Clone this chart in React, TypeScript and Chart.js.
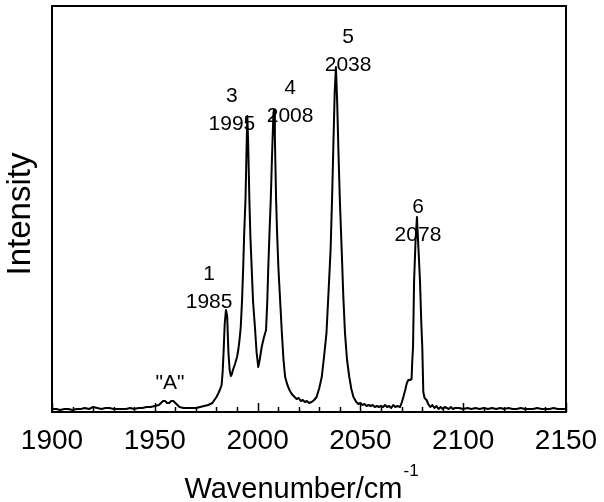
import { useEffect, useRef } from "react";
import { Chart, registerables } from "chart.js";

Chart.register(...registerables);

// Spectrum (wavenumber in cm^-1, intensity in arbitrary units)
const wavenumbers = [
  1900, 1902, 1904, 1906, 1908, 1910, 1912, 1914, 1916, 1918, 1920, 1922, 1924, 1926, 1928, 1930,
  1932, 1934, 1936, 1938, 1940, 1942, 1944, 1946, 1948, 1950, 1952, 1953, 1954, 1955, 1956, 1957,
  1958, 1959, 1960, 1961, 1962, 1964, 1966, 1968, 1970, 1972, 1974, 1976, 1978, 1979, 1980, 1981,
  1982, 1982.5, 1983, 1983.5, 1984, 1984.6, 1985.2, 1985.8, 1986.4, 1987, 1987.5, 1988, 1989, 1990,
  1990.6, 1991.2, 1991.8, 1992.4, 1993, 1993.5, 1994.1, 1994.6, 1995, 1995.4, 1996, 1996.5, 1997.1,
  1997.8, 1998.7, 1999.5, 2000.3, 2001, 2002, 2003, 2004.1, 2004.7, 2005.2, 2005.8, 2006.4, 2007,
  2007.7, 2008, 2008.4, 2009, 2009.5, 2010.1, 2011, 2011.8, 2012.6, 2013.4, 2014.5, 2015.5, 2016.6,
  2018, 2019, 2020, 2021, 2022, 2023, 2024, 2025, 2026.3, 2027.5, 2028.7, 2030, 2031.2, 2032.3, 2033.5,
  2034.5, 2035.5, 2036.2, 2036.8, 2037.5, 2038.1, 2038.7, 2039.3, 2040, 2040.9, 2041.7, 2042.5,
  2043.5, 2044.6, 2045.6, 2046.6, 2048, 2049, 2050, 2051, 2052, 2053, 2054, 2055, 2056, 2057, 2058,
  2059, 2060, 2061, 2062, 2063, 2064, 2065, 2066, 2067, 2068, 2069.3, 2070.2, 2070.9, 2071.8, 2072.6,
  2073.3, 2074, 2074.9, 2075.2, 2075.6, 2076.1, 2076.8, 2077.5, 2078.2, 2079, 2079.6, 2080.1, 2080.6,
  2081.2, 2082.2, 2083, 2084, 2085, 2086, 2087, 2088, 2089, 2090, 2091, 2092, 2093, 2094, 2095, 2096,
  2098, 2100, 2102, 2104, 2106, 2108, 2110, 2112, 2114, 2116, 2118, 2120, 2122, 2124, 2126, 2128,
  2130, 2132, 2134, 2136, 2138, 2140, 2142, 2144, 2146, 2148, 2150,
];

const intensities = [
  3, 3, 2, 3, 3, 2, 3, 3, 4, 3, 5, 4, 3, 4, 4, 3,
  3, 3, 3, 4, 3, 4, 4, 5, 5, 6, 7, 9, 11, 11, 9, 9,
  11, 11, 9, 7, 5, 4, 4, 4, 4, 5, 6, 7, 9, 12, 15, 19,
  24, 27, 40, 62, 88, 102, 96, 60, 42, 36, 38, 42, 48, 55,
  62, 72, 85, 110, 145, 180, 212, 260, 296, 270, 212, 175, 145,
  110, 85, 60, 45, 52, 65, 74, 82, 110, 145, 180, 212, 255,
  299, 302, 275, 212, 178, 145, 110, 79, 52, 35, 27, 22, 18,
  15, 13, 14, 11, 12, 10, 11, 9, 10, 12, 15, 24, 35, 55, 79,
  120, 162, 212, 262, 320, 345, 310, 262, 212, 162, 115, 79,
  52, 35, 23, 15, 10, 8, 9, 7, 8, 6, 7, 6, 7, 5, 6,
  5, 6, 5, 7, 5, 6, 4, 7, 5, 6, 5, 10, 15, 22, 29,
  32, 32, 33, 50, 65, 130, 170, 195, 165, 130, 90, 65, 20,
  14, 12, 8, 5, 7, 4, 6, 3, 5, 3, 5, 4, 3, 5, 3, 4,
  4, 3, 4, 3, 4, 3, 4, 3, 4, 3, 4, 3, 4, 3, 3, 4,
  3, 3, 3, 4, 3, 3, 3, 4, 3, 3, 3,
];

const xMin = 1900;
const xMax = 2150;
const yMin = 0;
const yMax = 406;
const majorTicks = [1900, 1950, 2000, 2050, 2100, 2150];
const minorTicks = [
  1910, 1920, 1930, 1940, 1960, 1970, 1980, 1990, 2010, 2020, 2030, 2040, 2060, 2070, 2080, 2090,
  2110, 2120, 2130, 2140,
];

// Peak annotations: text lines, anchored (bottom line centre) in data coordinates
const peakLabelLines = [["1", "1985"], ["3", "1995"], ["4", "2008"], ["5", "2038"], ["6", "2078"], ['"A"']];
const peakLabelX = [1976.4, 1987.5, 2015.8, 2044, 2078, 1957.4];
const peakLabelY = [110, 288, 296, 347, 177, 29];

const xTitle = "Wavenumber/cm";
const xTitleSup = "-1";
const yTitle = "Intensity";

const FONT = "'Liberation Sans', Arial, Helvetica, sans-serif";

const decorPlugin = {
  id: "decor",
  afterDraw(chart: any) {
    const { ctx, chartArea } = chart;
    const xs = chart.scales.x;
    const ys = chart.scales.y;
    const { left, right, top, bottom } = chartArea;
    ctx.save();
    // frame
    ctx.strokeStyle = "#000";
    ctx.lineWidth = 2;
    ctx.strokeRect(left, top, right - left, bottom - top);
    // inward ticks on bottom axis
    ctx.lineWidth = 1.5;
    ctx.beginPath();
    for (const v of majorTicks) {
      const px = Math.round(xs.getPixelForValue(v)) + 0.5;
      ctx.moveTo(px, bottom);
      ctx.lineTo(px, bottom - 9);
    }
    for (const v of minorTicks) {
      const px = Math.round(xs.getPixelForValue(v)) + 0.5;
      ctx.moveTo(px, bottom);
      ctx.lineTo(px, bottom - 5);
    }
    ctx.stroke();
    // peak labels
    ctx.fillStyle = "#000";
    ctx.font = `21px ${FONT}`;
    ctx.textAlign = "center";
    ctx.textBaseline = "middle";
    peakLabelLines.forEach((lines, i) => {
      const px = xs.getPixelForValue(peakLabelX[i]);
      const py = ys.getPixelForValue(peakLabelY[i]);
      const n = lines.length;
      lines.forEach((t, j) => {
        ctx.fillText(t, px, py - (n - 1 - j) * 28);
      });
    });
    // x title with superscript
    ctx.textBaseline = "alphabetic";
    ctx.textAlign = "left";
    ctx.font = `29px ${FONT}`;
    const wMain = ctx.measureText(xTitle).width;
    ctx.font = `17px ${FONT}`;
    const wSup = ctx.measureText(xTitleSup).width;
    const cx = (left + right) / 2 - 8;
    const startX = cx - (wMain + wSup) / 2;
    ctx.font = `29px ${FONT}`;
    ctx.fillText(xTitle, startX, 498);
    ctx.font = `17px ${FONT}`;
    ctx.fillText(xTitleSup, startX + wMain + 1, 476);
    // y title
    ctx.font = `33px ${FONT}`;
    ctx.textAlign = "center";
    ctx.textBaseline = "middle";
    ctx.translate(21, (top + bottom) / 2 + 5);
    ctx.rotate(-Math.PI / 2);
    ctx.fillText(yTitle, 0, 0);
    ctx.restore();
  },
};

export default function App() {
  const canvasRef = useRef<HTMLCanvasElement | null>(null);

  useEffect(() => {
    document.body.style.margin = "0";
    const canvas = canvasRef.current;
    if (!canvas) return;
    const points = wavenumbers.map((w, i) => ({ x: w, y: intensities[i] }));
    const chart = new Chart(canvas, {
      type: "line",
      data: {
        datasets: [
          {
            data: points,
            borderColor: "#000",
            borderWidth: 2,
            pointRadius: 0,
            tension: 0,
            fill: false,
            borderJoinStyle: "round",
          },
        ],
      },
      options: {
        animation: false,
        responsive: false,
        devicePixelRatio: 1,
        layout: { padding: { left: 52, top: 6, right: 38, bottom: 0 } },
        plugins: {
          legend: { display: false },
          tooltip: { enabled: false },
        },
        scales: {
          x: {
            type: "linear",
            min: xMin,
            max: xMax,
            grid: { display: false, drawTicks: false },
            border: { display: false },
            ticks: {
              stepSize: 50,
              autoSkip: false,
              maxRotation: 0,
              color: "#000",
              padding: 12,
              font: { family: FONT, size: 28 },
              callback: (v: any) => String(v),
            },
            afterFit: (scale: any) => {
              scale.height = 90;
              scale.paddingLeft = 0;
              scale.paddingRight = 0;
              scale.paddingTop = 0;
              scale.paddingBottom = 0;
            },
          },
          y: {
            display: false,
            min: yMin,
            max: yMax,
          },
        },
      },
      plugins: [decorPlugin],
    } as any);
    return () => chart.destroy();
  }, []);

  return (
    <div style={{ position: "absolute", left: 0, top: 0, width: 604, height: 502, background: "#fff" }}>
      <canvas ref={canvasRef} width={604} height={502} />
    </div>
  );
}
